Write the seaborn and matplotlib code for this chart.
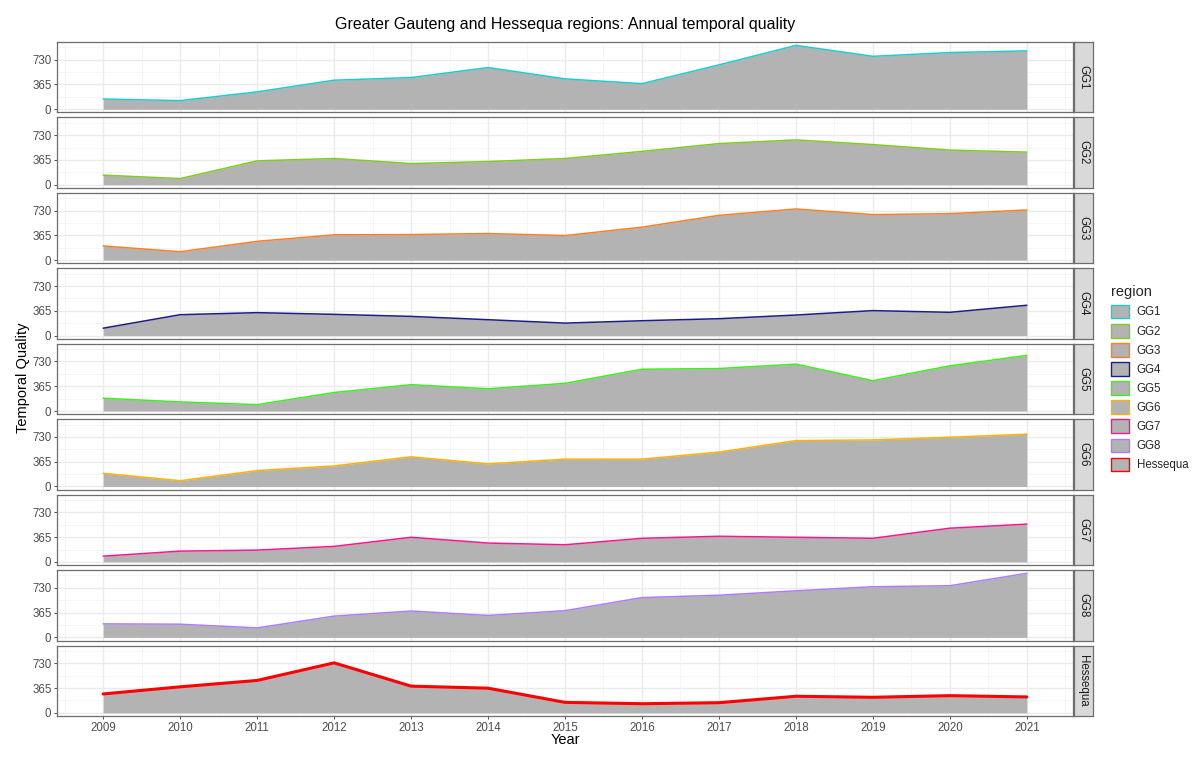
import matplotlib
matplotlib.use("Agg")
import matplotlib.pyplot as plt
from matplotlib.patches import Patch
import seaborn as sns
import pandas as pd

years = list(range(2009, 2022))
regions = ["GG1", "GG2", "GG3", "GG4", "GG5", "GG6", "GG7", "GG8", "Hessequa"]

gg1 = [151, 127, 256, 428, 467, 614, 448, 377, 654, 941, 780, 835, 860]
gg2 = [141, 90, 351, 386, 311, 341, 386, 491, 606, 660, 591, 510, 480]
gg3 = [209, 124, 277, 373, 377, 392, 362, 486, 660, 754, 671, 685, 739]
gg4 = [109, 308, 338, 313, 283, 234, 184, 219, 249, 303, 368, 343, 447]
gg5 = [189, 134, 94, 273, 388, 328, 408, 616, 626, 691, 447, 666, 820]
gg6 = [194, 85, 234, 303, 437, 333, 403, 403, 507, 676, 686, 726, 770]
gg7 = [85, 159, 174, 229, 363, 278, 253, 348, 378, 363, 348, 497, 557]
gg8 = [199, 194, 139, 313, 388, 323, 393, 586, 621, 686, 746, 761, 944]
hessequa = [278, 383, 477, 736, 393, 363, 154, 134, 149, 244, 229, 253, 234]

series = [gg1, gg2, gg3, gg4, gg5, gg6, gg7, gg8, hessequa]
colors = ["#1CCDD0", "#7FCD1F", "#FF7F24", "#1C1C8C", "#3CF01E",
          "#FFB300", "#FF1493", "#B07CFF", "#FF0000"]
line_widths = [1.1] * 8 + [2.2]

y_ticks = [0, 365, 730]
x_ticks = years

df = pd.DataFrame({
    "Year": years * len(regions),
    "value": [v for s in series for v in s],
    "region": [r for r in regions for _ in years],
})

sns.set_theme(style="white")
plt.rcParams["font.family"] = ["Liberation Sans", "DejaVu Sans"]

W, H = 1200, 762
fig = plt.figure(figsize=(W / 100, H / 100), dpi=100)

left, right = 57, 1073
top0, bottom_last = 42, 716
gap = 5
n = len(regions)
ph = (bottom_last - top0 - gap * (n - 1)) / n
fill_col = "#B3B3B3"
border = "#6E6E6E"
tick_col = "#4D4D4D"

ymin, ymax = -47, 991
xmin, xmax = 2008.4, 2021.6

for i, reg in enumerate(regions):
    top = top0 + i * (ph + gap)
    ax = fig.add_axes([left / W, 1 - (top + ph) / H, (right - left) / W, ph / H])
    sub = df[df["region"] == reg]
    # grid
    for yy in [182.5, 547.5, 912.5]:
        ax.axhline(yy, color="#F2F2F2", lw=0.5, zorder=0)
    for yy in y_ticks:
        ax.axhline(yy, color="#EBEBEB", lw=1.0, zorder=0)
    for xx in [y + 0.5 for y in range(2008, 2022)]:
        ax.axvline(xx, color="#F2F2F2", lw=0.5, zorder=0)
    for xx in x_ticks:
        ax.axvline(xx, color="#EBEBEB", lw=1.0, zorder=0)
    ax.fill_between(sub["Year"], 0, sub["value"], color=fill_col, lw=0, zorder=1)
    sns.lineplot(data=sub, x="Year", y="value", color=colors[i],
                 lw=line_widths[i], ax=ax, zorder=2, legend=False)
    ax.set_xlim(xmin, xmax)
    ax.set_ylim(ymin, ymax)
    ax.set_yticks(y_ticks)
    ax.set_yticklabels([str(t) for t in y_ticks], fontsize=8.3, color=tick_col)
    ax.set_xticks(x_ticks)
    ax.set_xlabel("")
    ax.set_ylabel("")
    ax.tick_params(axis="both", length=2.5, width=0.6, color="#333333", pad=1.5,
                   left=True, bottom=(i == n - 1))
    if i == n - 1:
        ax.set_xticklabels([str(x) for x in x_ticks], fontsize=8.3, color=tick_col)
    else:
        ax.set_xticklabels([])
    for sp in ax.spines.values():
        sp.set_color(border)
        sp.set_linewidth(0.9)
    # strip
    sax = fig.add_axes([(right + 1) / W, 1 - (top + ph) / H, 19 / W, ph / H])
    sax.set_xticks([])
    sax.set_yticks([])
    sax.set_facecolor("#D9D9D9")
    for sp in sax.spines.values():
        sp.set_color(border)
        sp.set_linewidth(0.9)
    sax.text(0.5, 0.5, reg, rotation=-90, ha="center", va="center",
             fontsize=8.3, color="#1A1A1A", transform=sax.transAxes)

fig.text((left + right) / 2 / W, 1 - 24 / H,
         "Greater Gauteng and Hessequa regions: Annual temporal quality",
         ha="center", va="center", fontsize=11.5, color="black")
fig.text((left + right) / 2 / W, 1 - 740 / H, "Year", ha="center", va="center",
         fontsize=10.5, color="black")
fig.text(23 / W, 1 - 378 / H, "Temporal Quality", rotation=90, ha="center",
         va="center", fontsize=10.5, color="black")

handles = [Patch(facecolor=fill_col, edgecolor=c, linewidth=1.0) for c in colors]
leg = fig.legend(handles, regions, title="region", loc="upper left",
                 bbox_to_anchor=(1101 / W, 1 - 275 / H), frameon=False,
                 fontsize=8.3, title_fontsize=10.5, handlelength=1.5,
                 handleheight=1.45, labelspacing=0.47, handletextpad=0.7,
                 alignment="left")

fig.savefig("out.png", dpi=100, facecolor="white")
